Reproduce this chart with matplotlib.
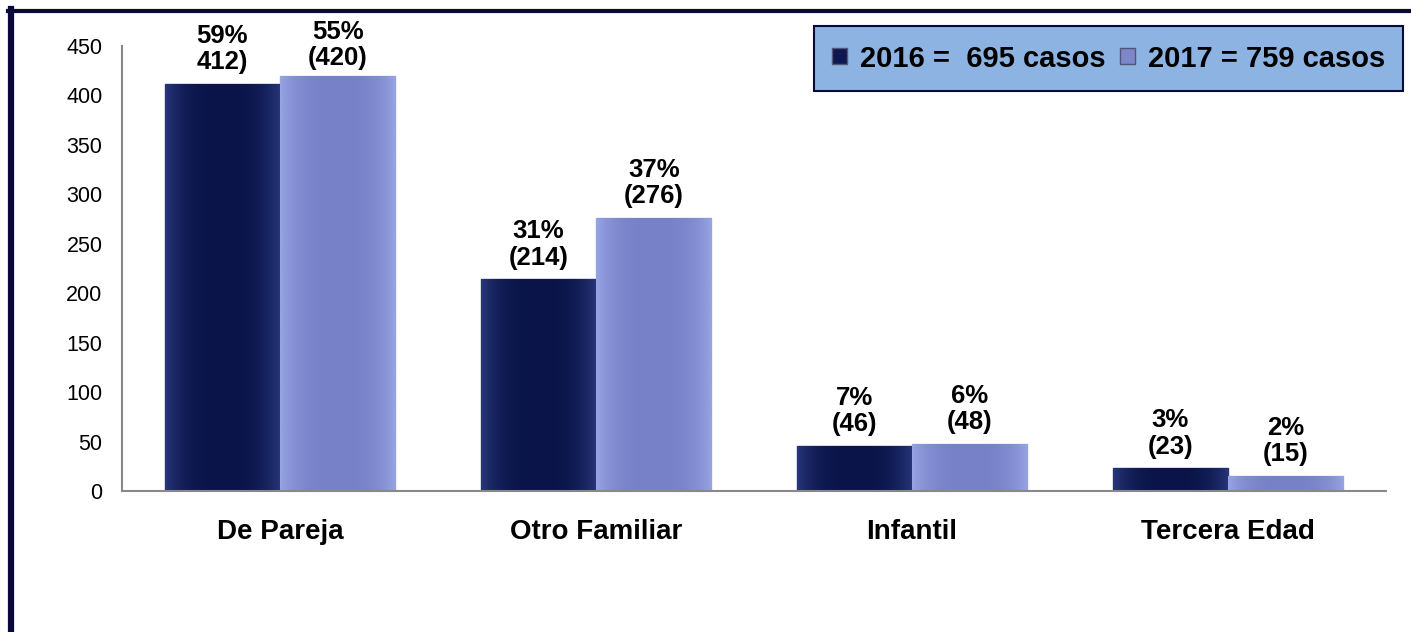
import numpy as np
import matplotlib.pyplot as plt
from matplotlib.lines import Line2D
from matplotlib.patches import Patch

categories = ["De Pareja", "Otro Familiar", "Infantil", "Tercera Edad"]
values_2016 = [412, 214, 46, 23]
values_2017 = [420, 276, 48, 15]
labels_2016 = ["59%\n412)", "31%\n(214)", "7%\n(46)", "3%\n(23)"]
labels_2017 = ["55%\n(420)", "37%\n(276)", "6%\n(48)", "2%\n(15)"]
legend_labels = ["2016 =  695 casos", "2017 = 759 casos"]
yticks = [0, 50, 100, 150, 200, 250, 300, 350, 400, 450]

dark = "#0d1850"
light = "#7c87cc"
navy = "#0a0a3a"


def shade(ax, bars, c_mid, c_edge):
    # soft horizontal gradient inside each bar, lighter at the sides
    t = np.linspace(-1, 1, 64)
    k = (np.abs(t) ** 3)[None, :, None]
    c0 = np.array(plt.matplotlib.colors.to_rgb(c_mid))
    c1 = np.array(plt.matplotlib.colors.to_rgb(c_edge))
    img = c0 * (1 - k) + c1 * k
    for rect in bars:
        x0, w, h = rect.get_x(), rect.get_width(), rect.get_height()
        im = ax.imshow(img, extent=[x0, x0 + w, 0, h], aspect="auto", zorder=rect.get_zorder() + 0.1)
        im.set_clip_path(rect)


def main():
    plt.rcParams['font.family'] = ['Liberation Sans', 'DejaVu Sans']
    fig = plt.figure(figsize=(14.11, 6.32), dpi=100)
    ax = fig.add_axes([0.0865, 0.2231, 0.8958, 0.7041])

    x = np.arange(len(categories))
    w = 0.365
    b1 = ax.bar(x - w / 2, values_2016, w, color=dark, edgecolor="#2e3c84", linewidth=1.0)
    b2 = ax.bar(x + w / 2, values_2017, w, color=light, edgecolor="#a2ace6", linewidth=1.0)
    shade(ax, b1, "#0a1448", "#27367a")
    shade(ax, b2, "#7781c8", "#97a3e2")

    anns = []
    for bars, labs in ((b1, labels_2016), (b2, labels_2017)):
        for rect, lab in zip(bars, labs):
            a = ax.annotate(lab, (rect.get_x() + rect.get_width() / 2, rect.get_height()),
                            xytext=(0, 7), textcoords="offset points", ha="center", va="bottom",
                            fontsize=18.5, fontweight="bold", linespacing=1.12, zorder=5)
            anns.append(a)

    ax.set_xlim(-0.5, len(categories) - 0.5)
    ax.set_ylim(0, 450)
    ax.set_yticks(yticks)
    ax.set_xticks(x)
    ax.set_xticklabels(categories, fontsize=20, fontweight="bold")
    ax.tick_params(axis="y", length=0, labelsize=15.5, pad=14)
    ax.tick_params(axis="x", length=0, pad=20)
    for s in ("top", "right"):
        ax.spines[s].set_visible(False)
    for s in ("left", "bottom"):
        ax.spines[s].set_color("#888888")
        ax.spines[s].set_linewidth(1.5)
        ax.spines[s].set_zorder(6)

    handles = [Patch(facecolor=dark, edgecolor="#555577"), Patch(facecolor=light, edgecolor="#555577")]
    leg = fig.legend(handles, legend_labels, loc="center", bbox_to_anchor=(0.7856, 0.9074),
                     ncol=2, frameon=True, fancybox=False, facecolor="#8db3e2", edgecolor=navy,
                     prop={"size": 21, "weight": "bold"}, handlelength=0.5, handleheight=0.5,
                     handletextpad=0.45, columnspacing=0.5, borderpad=0.62, borderaxespad=0)
    leg.get_frame().set_linewidth(1.5)
    leg.get_frame().set_alpha(1)

    fig.add_artist(Line2D([11 / 1411, 11 / 1411], [0, 1 - 9 / 632], color=navy, linewidth=4.5))
    fig.add_artist(Line2D([8 / 1411, 1], [1 - 11 / 632, 1 - 11 / 632], color=navy, linewidth=3))

    # labels that would run into the top frame are pushed down
    fig.canvas.draw()
    top_limit = fig.bbox.height - 20
    for a in anns:
        bb = a.get_window_extent()
        if bb.y1 > top_limit:
            dx, dy = a.xyann
            a.xyann = (dx, dy - (bb.y1 - top_limit) * 72 / fig.dpi)

    fig.savefig("out.png", dpi=100)


if __name__ == "__main__":
    main()
